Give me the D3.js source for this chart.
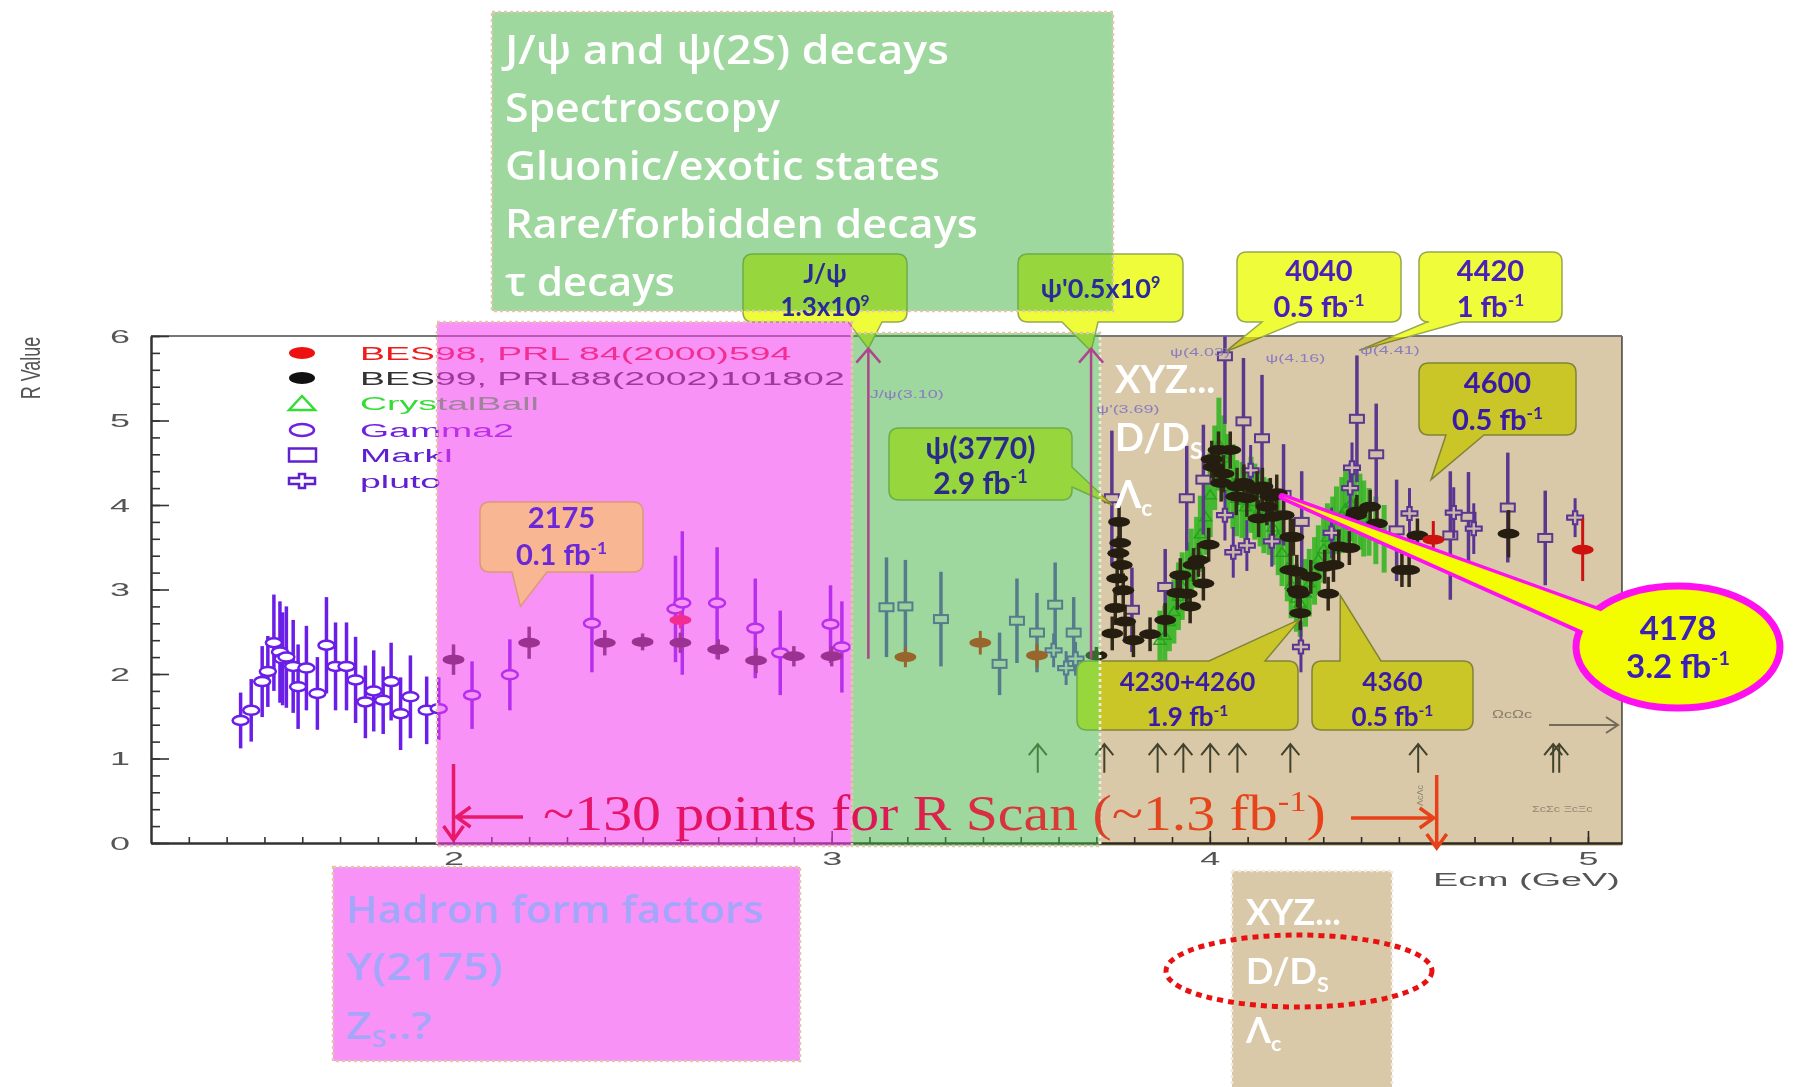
<!DOCTYPE html>
<html><head><meta charset="utf-8">
<script src="https://cdn.jsdelivr.net/npm/d3@7"></script>
<style>body{margin:0;background:#fff}svg{display:block}</style>
</head><body>
<svg id="chart" width="1793" height="1087"></svg>
<script>
// ---------------- data: [Ecm (GeV), R, error] ----------------
const gamma2 = [
 [1.437,1.45,0.33],[1.465,1.57,0.37],[1.494,1.91,0.42],[1.509,2.03,0.42],[1.525,2.37,0.57],
 [1.541,2.26,0.60],[1.548,2.18,0.55],[1.558,2.20,0.60],[1.576,2.09,0.55],[1.589,1.85,0.50],
 [1.611,2.07,0.50],[1.640,1.77,0.43],[1.664,2.34,0.57],[1.688,2.09,0.52],[1.717,2.09,0.52],
 [1.741,1.93,0.51],[1.767,1.67,0.43],[1.789,1.80,0.48],[1.814,1.69,0.40],[1.835,1.91,0.46],
 [1.860,1.53,0.43],[1.886,1.73,0.49],[1.929,1.57,0.40],[1.961,1.59,0.37],
 [2.049,1.75,0.40],[2.149,1.99,0.42],[2.366,2.60,0.58],[2.587,2.77,0.63],[2.605,2.84,0.85],
 [2.697,2.84,0.66],[2.798,2.54,0.59],[2.864,2.25,0.50],[2.997,2.59,0.46],[3.027,2.32,0.54]
];
const markI = [
 [3.145,2.79,0.59],[3.195,2.80,0.55],[3.289,2.65,0.56],[3.444,2.12,0.37],[3.490,2.63,0.50],
 [3.543,2.49,0.47],[3.591,2.82,0.50],[3.640,2.49,0.42],[3.741,4.08,0.80],[3.794,2.76,0.50],
 [3.882,3.03,0.45],[3.939,4.08,0.62],[3.983,4.30,0.65],[4.040,5.76,0.80],[4.089,4.99,0.75],
 [4.138,4.79,0.75],[4.195,4.12,0.60],[4.243,3.80,0.60],[4.389,5.02,0.75],[4.440,4.60,0.60],
 [4.494,3.70,0.60],[4.636,3.64,0.76],[4.684,3.86,0.53],[4.788,3.97,0.65],[4.887,3.61,0.56]
];
const pluto = [
 [3.587,2.28,0.20],[3.620,2.07,0.20],[3.645,2.18,0.20],[4.040,3.88,0.30],[4.062,3.44,0.30],
 [4.098,3.52,0.30],[4.108,4.41,0.30],[4.164,3.57,0.30],[4.241,2.32,0.30],[4.322,3.67,0.30],
 [4.371,4.20,0.30],[4.376,4.44,0.30],[4.528,3.90,0.30],[4.645,3.91,0.30],[4.698,3.72,0.30],
 [4.966,3.85,0.23]
];
const bes98 = [
 [2.600,2.64,0.10],[3.195,2.20,0.12],[3.393,2.37,0.14],[3.543,2.22,0.14],[4.591,3.59,0.22],[4.986,3.47,0.37]
];
const bes99 = [
 [2.0,2.17,0.18],[2.2,2.37,0.19],[2.4,2.37,0.15],[2.5,2.38,0.10],[2.6,2.37,0.12],[2.7,2.29,0.12],
 [2.8,2.16,0.15],[2.9,2.21,0.12],[3.0,2.21,0.12],[3.70,2.22,0.10],
 [3.742,2.48,0.20],[3.750,2.78,0.20],[3.755,3.13,0.20],[3.758,3.43,0.20],[3.760,3.80,0.22],
 [3.763,3.55,0.20],[3.767,3.29,0.20],[3.771,2.99,0.20],[3.776,2.62,0.20],[3.798,2.40,0.20],
 [3.842,2.47,0.20],[3.882,2.64,0.20],[3.914,2.96,0.20],[3.922,3.17,0.20],[3.939,2.95,0.20],
 [3.948,2.80,0.20],[3.957,3.29,0.20],[3.970,3.35,0.20],[3.983,3.07,0.20],[3.997,3.53,0.20],
 [4.005,4.54,0.22],[4.010,4.45,0.22],[4.023,4.65,0.22],[4.030,4.26,0.22],[4.036,4.37,0.22],
 [4.054,4.65,0.22],[4.070,4.10,0.22],[4.072,4.22,0.22],[4.090,4.26,0.22],[4.098,4.08,0.22],
 [4.125,4.18,0.22],[4.129,3.84,0.22],[4.139,4.22,0.22],[4.151,3.98,0.22],[4.160,4.10,0.22],
 [4.167,3.86,0.22],[4.177,4.14,0.22],[4.195,3.88,0.22],[4.213,3.62,0.22],[4.221,3.62,0.22],
 [4.213,3.23,0.20],[4.230,3.21,0.20],[4.232,2.99,0.20],[4.236,2.95,0.20],[4.239,2.72,0.20],
 [4.267,3.15,0.20],[4.304,3.27,0.20],[4.313,2.95,0.20],[4.327,3.29,0.20],[4.341,3.51,0.20],
 [4.369,3.49,0.20],[4.387,3.88,0.20],[4.389,3.92,0.20],[4.424,3.98,0.20],[4.442,3.78,0.20],
 [4.508,3.23,0.20],[4.527,3.23,0.20],[4.549,3.64,0.20],[4.790,3.66,0.28]
];
const crystalBall = [
 [3.868,2.40,0.35],[3.881,2.46,0.35],[3.893,2.62,0.35],[3.905,2.74,0.38],[3.917,2.92,0.40],
 [3.927,3.04,0.40],[3.941,3.16,0.40],[3.951,3.32,0.40],[3.965,3.44,0.42],[3.975,3.66,0.45],
 [3.989,3.86,0.45],[4.001,4.12,0.50],[4.013,4.44,0.50],[4.024,4.72,0.55],[4.037,4.56,0.50],
 [4.047,4.34,0.50],[4.061,4.22,0.50],[4.071,4.08,0.45],[4.085,4.06,0.45],[4.095,3.98,0.45],
 [4.109,4.12,0.45],[4.119,4.04,0.45],[4.133,3.96,0.45],[4.143,3.88,0.45],[4.157,3.86,0.45],
 [4.167,3.74,0.45],[4.181,3.62,0.45],[4.191,3.44,0.40],[4.205,3.26,0.40],[4.215,3.06,0.40],
 [4.229,2.90,0.40],[4.239,2.84,0.40],[4.253,2.96,0.40],[4.263,3.08,0.40],[4.277,3.22,0.40],
 [4.287,3.36,0.40],[4.301,3.48,0.40],[4.311,3.62,0.40],[4.325,3.70,0.40],[4.335,3.82,0.40],
 [4.349,3.88,0.45],[4.359,3.96,0.45],[4.373,4.02,0.45],[4.383,3.94,0.45],[4.397,3.92,0.45],
 [4.407,3.84,0.45],[4.421,3.80,0.40],[4.439,3.70,0.40],[4.461,3.60,0.40]
];
const yTicks = [0,1,2,3,4,5,6];
const xTicks = [2,3,4,5];
const thresholds = [3.545,3.721,3.862,3.930,4.001,4.073,4.213,4.551,4.908,4.924];
const resonanceLines = [3.097,3.686];
const resonanceLabels = [["J/ψ(3.10)",3.101,5.27],["ψ'(3.69)",3.700,5.09],["ψ(4.03)",3.895,5.76],["ψ(4.16)",4.147,5.69],["ψ(4.41)",4.397,5.79]];
const legendLabels = ["BES98, PRL 84(2000)594","BES99, PRL88(2002)101802","CrystalBall","Gamma2","MarkI","pluto"];
const topBoxLines = ["J/ψ and ψ(2S) decays","Spectroscopy","Gluonic/exotic states","Rare/forbidden decays","τ decays"];
const rScanRange = [2.0, 4.6];

// ---------------- setup ----------------
const svg = d3.select('#chart');
const x = d3.scaleLinear().domain([1.2,5.09]).range([151,1622]);
const y = d3.scaleLinear().domain([0,6]).range([843,336]);
const fontC = "Lato, 'Open Sans', 'DejaVu Sans', sans-serif";
const fontO = "'Open Sans', Lato, 'DejaVu Sans', sans-serif";
const fontP = "'Liberation Sans', Arial, sans-serif";
const defs = svg.append('defs');
defs.append('clipPath').attr('id','plotClip').append('rect').attr('x',151).attr('y',336).attr('width',1471).attr('height',507);
const grad = defs.append('linearGradient').attr('id','rscanGrad').attr('gradientUnits','userSpaceOnUse')
  .attr('x1',543).attr('x2',1326).attr('y1',0).attr('y2',0);
[[0,'#e8156e'],[0.4,'#e0125a'],[0.62,'#d6383a'],[0.8,'#e2481c'],[1,'#e8421a']].forEach(s=>grad.append('stop').attr('offset',s[0]).attr('stop-color',s[1]));

const gBase = svg.append('g');
const gOver = svg.append('g');
const gTop = svg.append('g');

function rich(g, xx, yy, parts, fs, attrs){
  const t = g.append('text').attr('x',xx).attr('y',yy).attr('font-size',fs);
  Object.entries(attrs||{}).forEach(([k,v])=>t.attr(k,v));
  let shift = 0;
  parts.forEach(p=>{
    const s = typeof p==='string' ? [p,''] : p;
    const ts = t.append('tspan').text(s[0]);
    let target = 0;
    if(s[1]==='sup') target = -0.38*fs; else if(s[1]==='sub') target = 0.22*fs;
    if(target!==shift){ ts.attr('dy', target-shift); shift = target; }
    if(s[1]) ts.attr('font-size', 0.6*fs);
  });
  return t;
}
function fitted(g, xx, yy, parts, fs, attrs, w){
  const t = rich(g, 0, 0, parts, fs, attrs);
  const len = t.node().getComputedTextLength();
  t.attr('transform', `translate(${xx},${yy}) scale(${w/len},1)`);
  return t;
}

// ---------------- frame & axes ----------------
gBase.append('line').attr('x1',151).attr('x2',1622).attr('y1',336).attr('y2',336).attr('stroke','#777').attr('stroke-width',2);
gBase.append('line').attr('x1',1622).attr('x2',1622).attr('y1',336).attr('y2',843).attr('stroke','#777').attr('stroke-width',2);

const gyMin = gBase.append('g').attr('transform','translate(151,0)')
  .call(d3.axisLeft(y).tickValues(d3.range(0,6.01,0.2)).tickSize(-9).tickSizeOuter(0).tickFormat(''));
const gyMaj = gBase.append('g').attr('transform','translate(151,0)')
  .call(d3.axisLeft(y).tickValues(yTicks).tickSize(-18).tickSizeOuter(0).tickFormat(d3.format('d')));
const gxMin = gBase.append('g').attr('transform','translate(0,843)')
  .call(d3.axisBottom(x).tickValues(d3.range(1.3,5.09,0.1)).tickSize(-6).tickSizeOuter(0).tickFormat(''));
const gxMaj = gBase.append('g').attr('transform','translate(0,843)')
  .call(d3.axisBottom(x).tickValues(xTicks).tickSize(-12).tickSizeOuter(0).tickFormat(d3.format('d')));
[gyMin,gyMaj,gxMin,gxMaj].forEach(g=>{
  g.selectAll('.domain').attr('stroke','#333').attr('stroke-width',2);
  g.selectAll('.tick line').attr('stroke','#333').attr('stroke-width',1.6);
  g.attr('font-family',fontP).attr('font-size',18);
});
gyMaj.selectAll('.tick text').attr('x',0).attr('dy','0.36em').attr('fill','#555').attr('transform','translate(-21,0) scale(2,1)');
gxMaj.selectAll('.tick text').attr('y',0).attr('dy','22').attr('fill','#555').attr('transform','scale(2,1)');
gBase.append('text').attr('x',0).attr('y',0).attr('transform','translate(1433,886) scale(2.1,1)')
  .attr('font-family',fontP).attr('font-size',18).attr('fill','#555').text('Ecm (GeV)');
gBase.append('text').attr('transform','translate(40,368) scale(1.5,1) rotate(-90)').attr('text-anchor','middle')
  .attr('font-family',fontP).attr('font-size',18).attr('fill','#555').text('R Value');

// ---------------- legend ----------------
const legColors = ['#ee1c1c','#333333','#33dd33','#7020e0','#6020d0','#6020d0'];
const legY = [353,378,403,430,455,481];
const gl = gBase.append('g');
legendLabels.forEach((lab,i)=>{
  gl.append('text').attr('transform',`translate(360,${legY[i]+6.5}) scale(2.08,1)`).attr('font-family',fontP)
    .attr('font-size',18).attr('fill',legColors[i]).text(lab);
});
gl.append('ellipse').attr('cx',302).attr('cy',legY[0]).attr('rx',13).attr('ry',6).attr('fill','#ee1111');
gl.append('ellipse').attr('cx',302).attr('cy',legY[1]).attr('rx',13).attr('ry',6).attr('fill','#111');
gl.append('path').attr('transform',`translate(302,${legY[2]})`).attr('d','M-13,7L0,-7L13,7Z').attr('fill','none').attr('stroke','#33dd33').attr('stroke-width',2.5);
gl.append('ellipse').attr('cx',302).attr('cy',legY[3]).attr('rx',12).attr('ry',6).attr('fill','none').attr('stroke','#7020e0').attr('stroke-width',2.5);
gl.append('rect').attr('x',289).attr('y',legY[4]-6.5).attr('width',27).attr('height',13).attr('fill','none').attr('stroke','#6020d0').attr('stroke-width',2.5);
const crossPath = (a,b,t)=>`M${-t},${-b}L${t},${-b}L${t},${-t}L${a},${-t}L${a},${t}L${t},${t}L${t},${b}L${-t},${b}L${-t},${t}L${-a},${t}L${-a},${-t}L${-t},${-t}Z`;
gl.append('path').attr('transform',`translate(302,${legY[5]})`).attr('d',crossPath(13,7,3)).attr('fill','none').attr('stroke','#6020d0').attr('stroke-width',2.5);

// ---------------- data ----------------
const gd = gBase.append('g').attr('clip-path','url(#plotClip)');
function bars(data,color,w,op){
  gd.append('g').selectAll('line').data(data).join('line')
    .attr('x1',d=>x(d[0])).attr('x2',d=>x(d[0])).attr('y1',d=>y(d[1]-d[2])).attr('y2',d=>y(d[1]+d[2]))
    .attr('stroke',color).attr('stroke-width',w).attr('opacity',op||1);
}
bars(crystalBall,'#35e62a',5,0.85);
gd.append('g').selectAll('path').data(crystalBall).join('path')
  .attr('transform',d=>`translate(${x(d[0])},${y(d[1])})`).attr('d','M-6,4L0,-5L6,4Z')
  .attr('fill','none').attr('stroke','#2ccc2c').attr('stroke-width',1.5);
bars(markI,'#6b46d6',3.5);
gd.append('g').selectAll('rect').data(markI).join('rect')
  .attr('x',d=>x(d[0])-7).attr('y',d=>y(d[1])-4).attr('width',14).attr('height',8)
  .attr('fill','#f6f2ff').attr('stroke','#6b46d6').attr('stroke-width',2);
bars(pluto,'#6a40e0',3);
gd.append('g').selectAll('path').data(pluto).join('path')
  .attr('transform',d=>`translate(${x(d[0])},${y(d[1])})`).attr('d',crossPath(8,6.5,2.2))
  .attr('fill','#efeaff').attr('stroke','#6a40e0').attr('stroke-width',2);
bars(gamma2,'#6a1ee8',3.5);
gd.append('g').selectAll('ellipse').data(gamma2).join('ellipse')
  .attr('cx',d=>x(d[0])).attr('cy',d=>y(d[1])).attr('rx',8).attr('ry',4.5)
  .attr('fill','#fff').attr('stroke','#6a1ee8').attr('stroke-width',2.5);
bars(bes99,'#3a3326',3.5);
gd.append('g').selectAll('ellipse').data(bes99).join('ellipse')
  .attr('cx',d=>x(d[0])).attr('cy',d=>y(d[1])).attr('rx',11).attr('ry',5).attr('fill','#2a2418');
bars(bes98,'#f01818',3);
gd.append('g').selectAll('ellipse').data(bes98).join('ellipse')
  .attr('cx',d=>x(d[0])).attr('cy',d=>y(d[1])).attr('rx',11).attr('ry',5).attr('fill','#f01818');

// threshold arrows
const ga = gBase.append('g').attr('stroke','#4e5444').attr('stroke-width',2).attr('fill','none');
thresholds.forEach(e=>{
  const xx = x(e), y0 = y(0.83), y1 = y(1.17);
  ga.append('path').attr('d',`M${xx},${y0}L${xx},${y1}M${xx-9},${y1+11}L${xx},${y1}L${xx+9},${y1+11}`);
});
ga.append('path').attr('d','M1549,725L1618,725M1606,717L1618,725L1606,733').attr('stroke','#888');
gBase.append('text').attr('transform','translate(1492,718) scale(1.6,1)').attr('font-family',fontP).attr('font-size',10).attr('fill','#999').text('ΩcΩc');
gBase.append('text').attr('transform','translate(1423,806) rotate(-90)').attr('font-family',fontP).attr('font-size',9).attr('fill','#aaa').text('ΛcΛc');
gBase.append('text').attr('transform','translate(1532,812) scale(1.4,1)').attr('font-family',fontP).attr('font-size',9).attr('fill','#aaa').text('ΣcΣc ΞcΞc');

// ---------------- callouts ----------------
function calloutPath(b, side, bs, tp){
  const [x0,y0,x1,y1]=b, r=10, [t0,t1]=tp;
  let p=`M${x0+r},${y0}`;
  if(side==='top') p+=`L${bs[0]},${y0}L${t0},${t1}L${bs[1]},${y0}`;
  p+=`L${x1-r},${y0}Q${x1},${y0} ${x1},${y0+r}`;
  if(side==='right') p+=`L${x1},${bs[0]}L${t0},${t1}L${x1},${bs[1]}`;
  p+=`L${x1},${y1-r}Q${x1},${y1} ${x1-r},${y1}`;
  if(side==='bottom') p+=`L${bs[1]},${y1}L${t0},${t1}L${bs[0]},${y1}`;
  p+=`L${x0+r},${y1}Q${x0},${y1} ${x0},${y1-r}`;
  if(side==='left') p+=`L${x0},${bs[1]}L${t0},${t1}L${x0},${bs[0]}`;
  p+=`L${x0},${y0+r}Q${x0},${y0} ${x0+r},${y0}Z`;
  return p;
}
const callouts = [
 {box:[480,502,643,572], side:'bottom', base:[512,547], tip:[2.177,2.80], fs:29, color:'#6a28d8', ys:[528,565], lines:[["2175"],["0.1 fb",["-1","sup"]]], onTop:true, fill:'#f8b692', stroke:'#d89a78'},
 {box:[743,254,907,322], side:'bottom', base:[848,882], tip:[3.097,5.85], fs:26, color:'#2a2a9a', ys:[283,316], lines:[["J/ψ"],["1.3x10",["9","sup"]]]},
 {box:[1018,254,1183,322], side:'bottom', base:[1062,1098], tip:[3.686,5.82], fs:27, color:'#2a2a9a', ys:[298], lines:[["ψ'0.5x10",["9","sup"]]]},
 {box:[1237,252,1401,322], side:'bottom', base:[1262,1298], tip:[4.040,5.81], fs:29, color:'#4a20b8', ys:[281,317], lines:[["4040"],["0.5 fb",["-1","sup"]]]},
 {box:[1419,252,1562,322], side:'bottom', base:[1427,1461], tip:[4.395,5.83], fs:29, color:'#4a20b8', ys:[281,317], lines:[["4420"],["1 fb",["-1","sup"]]]},
 {box:[1419,363,1576,435], side:'bottom', base:[1446,1484], tip:[4.585,4.30], fs:29, color:'#3a1aa8', ys:[393,430], lines:[["4600"],["0.5 fb",["-1","sup"]]]},
 {box:[889,428,1072,500], side:'right', base:[467,487], tip:[3.742,4.00], fs:30, color:'#2a2a8a', ys:[459,494], lines:[["ψ(3770)"],["2.9 fb",["-1","sup"]]]},
 {box:[1077,661,1298,730], side:'top', base:[1209,1265], tip:[4.239,2.65], fs:26, color:'#3a1aa8', ys:[691,726], lines:[["4230+4260"],["1.9 fb",["-1","sup"]]]},
 {box:[1312,661,1473,730], side:'top', base:[1340,1381], tip:[4.345,2.93], fs:26, color:'#3a1aa8', ys:[691,726], lines:[["4360"],["0.5 fb",["-1","sup"]]]}
];
callouts.filter(c=>!c.onTop).forEach(c=>{
  gBase.append('path').attr('d',calloutPath(c.box,c.side,c.base,[x(c.tip[0]),y(c.tip[1])]))
    .attr('fill','#eefc3a').attr('stroke','#98a850').attr('stroke-width',1.5);
});

// ---------------- overlays ----------------
const pinkC = '#f43cf0', greenC = '#3fb13f', beigeC = '#d9c9a9';
[[437,322,852,846],[333,867,800,1061]].forEach(r=>{
  gOver.append('rect').attr('x',r[0]).attr('y',r[1]).attr('width',r[2]-r[0]).attr('height',r[3]-r[1])
    .attr('fill',pinkC).attr('opacity',0.56);
});
[[492,12,1113,311],[852,333,1100,846]].forEach(r=>{
  gOver.append('rect').attr('x',r[0]).attr('y',r[1]).attr('width',r[2]-r[0]).attr('height',r[3]-r[1])
    .attr('fill',greenC).attr('opacity',0.5);
});
[[1100,337,1622,846],[1232,871,1392,1087]].forEach(r=>{
  gOver.append('rect').attr('x',r[0]).attr('y',r[1]).attr('width',r[2]-r[0]).attr('height',r[3]-r[1])
    .attr('fill',beigeC).style('mix-blend-mode','multiply');
});
[[437,322,852,846],[333,867,800,1061],[492,12,1113,311],[852,333,1100,846]].forEach(r=>{
  gOver.append('rect').attr('x',r[0]).attr('y',r[1]).attr('width',r[2]-r[0]).attr('height',r[3]-r[1])
    .attr('fill','none').attr('stroke','#e2c6ac').attr('stroke-width',2.5).attr('stroke-dasharray','3 3');
});
gOver.append('path').attr('d','M1100,337L1100,846M1232,871L1392,871M1232,871L1232,1087M1392,871L1392,1087')
  .attr('stroke','#f2eadc').attr('stroke-width',2.5).attr('stroke-dasharray','3 3').attr('fill','none');

// ---------------- top layer ----------------
resonanceLines.forEach(e=>{
  const xx = x(e), yt = y(5.85), yb = y(2.18);
  gTop.append('path').attr('d',`M${xx},${yb}L${xx},${yt}M${xx-12},${yt+14}L${xx},${yt}L${xx+12},${yt+14}`)
    .attr('stroke','#b0448e').attr('stroke-width',2.5).attr('fill','none');
});
resonanceLabels.forEach(l=>{
  gTop.append('text').attr('transform',`translate(${x(l[1])},${y(l[2])}) scale(1.8,1)`)
    .attr('font-family',fontP).attr('font-size',10).attr('fill','#8a7cc0').text(l[0]);
});
callouts.filter(c=>c.onTop).forEach(c=>{
  gTop.append('path').attr('d',calloutPath(c.box,c.side,c.base,[x(c.tip[0]),y(c.tip[1])]))
    .attr('fill',c.fill).attr('stroke',c.stroke).attr('stroke-width',1.5);
});
callouts.forEach(c=>{
  const cx = (c.box[0]+c.box[2])/2;
  c.lines.forEach((ln,i)=>{
    rich(gTop, cx, c.ys[i], ln, c.fs, {'text-anchor':'middle','font-family':fontC,'font-weight':700,'fill':c.color});
  });
});
const topW = [444,275,435,473,170];
topBoxLines.forEach((t,i)=>{
  fitted(gTop,505,64+i*58,[t],39,{'font-family':fontO,'font-weight':600,'fill':'#ffffff'},topW[i]);
});
const tb = {'font-family':fontO,'font-weight':600,'fill':'#a4a6fa'};
fitted(gTop,346,923,["Hadron form factors"],38,tb,418);
fitted(gTop,346,980,["Y(2175)"],38,tb,157);
fitted(gTop,346,1039,["Z",["S","sub"],"..?"],38,tb,86);
const tw = {'font-family':fontC,'font-weight':700,'fill':'#ffffff'};
rich(gTop,1115,393,["XYZ..."],38,tw);
rich(gTop,1115,451,["D/D",["S","sub"]],38,tw);
rich(gTop,1115,508,["Λ",["c","sub"]],38,tw);
rich(gTop,1246,925,["XYZ..."],36,tw);
rich(gTop,1246,984,["D/D",["S","sub"]],36,tw);
rich(gTop,1246,1043,["Λ",["c","sub"]],36,tw);
gTop.append('ellipse').attr('cx',1299).attr('cy',971).attr('rx',133).attr('ry',36)
  .attr('fill','none').attr('stroke','#e81010').attr('stroke-width',5).attr('stroke-dasharray','6 5');

const rs = rich(gTop,0,0,["~130 points for R Scan (~1.3 fb",["-1","sup"],")"],50,
  {'font-family':"'Liberation Serif','Times New Roman',serif",'fill':'url(#rscanGrad)'});
const rsLen = rs.node().getComputedTextLength();
rs.attr('transform',`translate(543,830) scale(${783/rsLen},1)`);
grad.attr('x1',0).attr('x2',rsLen);
const xs0 = x(rScanRange[0]), xs1 = x(rScanRange[1]);
gTop.append('path').attr('d',`M${xs0},764L${xs0},840M${xs0-10},826L${xs0},840L${xs0+10},826M523,817L${xs0+3},817M${xs0+17},807L${xs0+3},817L${xs0+17},827`)
  .attr('stroke','#e8186a').attr('stroke-width',3.5).attr('fill','none');
gTop.append('path').attr('d',`M1351,818L${xs1-3},818M${xs1-17},808L${xs1-3},818L${xs1-17},828M${xs1},775L${xs1},848M${xs1-10},834L${xs1},848L${xs1+10},834`)
  .attr('stroke','#e84018').attr('stroke-width',3.5).attr('fill','none');

const tipX = x(4.191), tipY = y(4.10);
gTop.append('path').attr('d',`M${tipX},${tipY}L1597,610L1580,630Z`).attr('fill','#f4fc00').attr('stroke','#ff10f0').attr('stroke-width',7).attr('stroke-linejoin','round');
gTop.append('ellipse').attr('cx',1678).attr('cy',647).attr('rx',102).attr('ry',61)
  .attr('fill','#f4fc00').attr('stroke','#ff10f0').attr('stroke-width',7);
gTop.append('path').attr('d',`M${tipX},${tipY}L1628,621L1610,643Z`).attr('fill','#f4fc00');
const t78 = {'text-anchor':'middle','font-family':fontC,'font-weight':700,'fill':'#3a20b8'};
rich(gTop,1678,640,["4178"],33,t78);
rich(gTop,1678,678,["3.2 fb",["-1","sup"]],33,t78);
</script>
</body></html>
